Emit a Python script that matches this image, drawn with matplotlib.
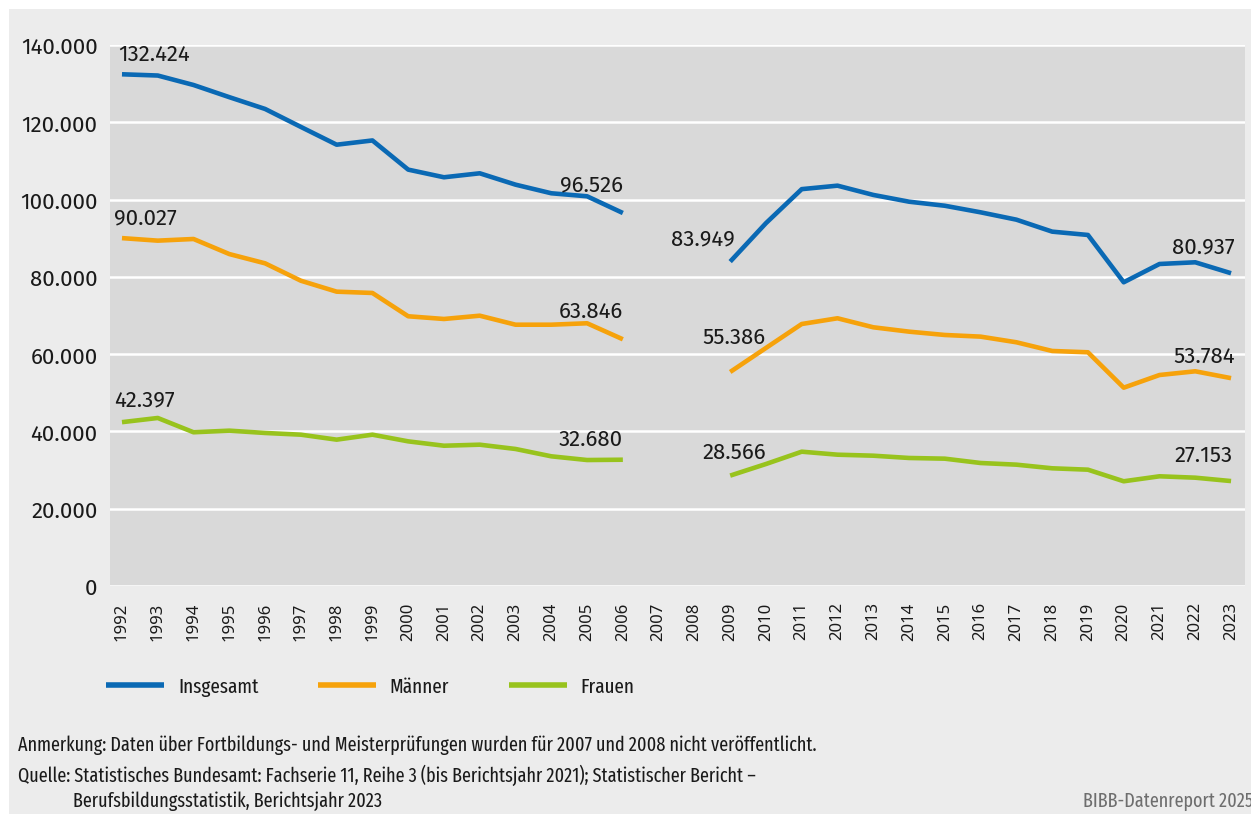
import numpy as np
import matplotlib.pyplot as plt
from matplotlib.patches import Rectangle
from matplotlib.ticker import FuncFormatter

years = list(range(1992, 2024))

# 2007 and 2008 were not published -> gaps
insgesamt = [132424, 132100, 129650, 126500, 123450, 118800, 114200, 115300, 107750,
             105770, 106800, 103860, 101630, 100850, 96526, None, None, 83949, 93900,
             102700, 103600, 101200, 99450, 98400, 96700, 94800, 91700, 90840, 78600,
             83330, 83770, 80937]
maenner = [90027, 89370, 89800, 85900, 83500, 79000, 76170, 75830, 69800,
           69100, 69950, 67620, 67620, 67990, 63846, None, None, 55386, 61600,
           67800, 69280, 66950, 65820, 64960, 64530, 63070, 60820, 60480, 51320,
           54600, 55560, 53784]
frauen = [42397, 43480, 39780, 40200, 39600, 39160, 37870, 39160, 37430,
          36300, 36570, 35460, 33560, 32600, 32680, None, None, 28566, 31570,
          34760, 33980, 33720, 33130, 32950, 31830, 31400, 30460, 30100, 27100,
          28390, 28030, 27153]

series_names = ["Insgesamt", "Männer", "Frauen"]
colors = ["#0a69b4", "#f6a20b", "#98c31d"]

# labelled points: (series index, year, x offset px, y offset px, ha)
labels = [
    (0, 1992, -4, 21, "left"), (0, 2006, 0, 29, "right"), (0, 2009, 5, 23, "right"), (0, 2023, 4, 27, "right"),
    (1, 1992, -8, 21, "left"), (1, 2006, 0, 29, "right"), (1, 2009, 4, 35, "center"), (1, 2023, 4, 22, "right"),
    (2, 1992, -8, 23, "left"), (2, 2006, 0, 21, "right"), (2, 2009, 4, 24, "center"), (2, 2023, 2, 26, "right"),
]

font_num = ["Fira Sans", "DejaVu Sans"]
font_small = ["Fira Sans Extra Condensed", "DejaVu Sans"]
txt = "#1a1a1a"

def fmt(v):
    return f"{int(v):,}".replace(",", ".")

fig = plt.figure(figsize=(12.51, 8.2), dpi=100, facecolor="white")
fig.patches.append(Rectangle((9 / 1251, 5 / 820), 1 - 9 / 1251, 1 - 15 / 820,
                             transform=fig.transFigure, facecolor="#ececec",
                             edgecolor="none", zorder=-10))

ax = fig.add_axes([110 / 1251, 1 - 587 / 820, 1135 / 1251, 541 / 820])
ax.set_facecolor("#d9d9d9")

data = [insgesamt, maenner, frauen]
handles = []
for name, vals, c in zip(series_names, data, colors):
    y = np.array([np.nan if v is None else v for v in vals], dtype=float)
    h, = ax.plot(years, y, color=c, lw=3.3, solid_capstyle="butt", label=name, zorder=3)
    handles.append(h)

for si, yr, dx, dy, ha in labels:
    v = data[si][years.index(yr)]
    ax.annotate(fmt(v), xy=(yr, v), xytext=(dx, dy), textcoords="offset pixels",
                ha=ha, va="center", fontsize=16, color=txt, family=font_num, zorder=4)

ax.set_xlim(1991.665, 2023.39)
ax.set_ylim(0, 140000)
ax.set_yticks(range(0, 140001, 20000))
ax.yaxis.set_major_formatter(FuncFormatter(lambda v, p: fmt(v)))
ax.set_xticks(years)
ax.set_xticklabels([str(y) for y in years], rotation=90, fontsize=12, color=txt,
                   family=["Noto Sans", "DejaVu Sans"])
for t in ax.get_yticklabels():
    t.set_family(font_num)
    t.set_fontsize(16)
    t.set_color(txt)
ax.tick_params(axis="both", length=0)
ax.tick_params(axis="y", pad=9)
ax.tick_params(axis="x", pad=11)
ax.grid(axis="y", color="white", lw=1.8, zorder=1)
ax.grid(axis="x", visible=False)
for s in ax.spines.values():
    s.set_visible(False)

leg = ax.legend(handles=handles, loc="center left", bbox_to_anchor=(-0.02, -0.185),
                ncol=3, frameon=False, handlelength=2.8, handletextpad=0.65,
                columnspacing=2.85, prop={"family": font_small, "size": 15})
for h in leg.legend_handles:
    h.set_linewidth(4)
for t in leg.get_texts():
    t.set_color(txt)

fs = 14.2
fig.text(18 / 1251, 1 - 745 / 820, "Anmerkung: Daten über Fortbildungs- und Meisterprüfungen wurden für 2007 und 2008 nicht veröffentlicht.",
         fontsize=fs, family=font_small, color=txt, va="center")
fig.text(18 / 1251, 1 - 775 / 820, "Quelle: Statistisches Bundesamt: Fachserie 11, Reihe 3 (bis Berichtsjahr 2021); Statistischer Bericht –",
         fontsize=fs, family=font_small, color=txt, va="center")
fig.text(73 / 1251, 1 - 801 / 820, "Berufsbildungsstatistik, Berichtsjahr 2023",
         fontsize=fs, family=font_small, color=txt, va="center")
fig.text(1253 / 1251, 1 - 801 / 820, "BIBB-Datenreport 2025",
         fontsize=fs, family=font_small, color="#6e6e6e", va="center", ha="right")

fig.savefig("out.png", dpi=100, facecolor="white")
